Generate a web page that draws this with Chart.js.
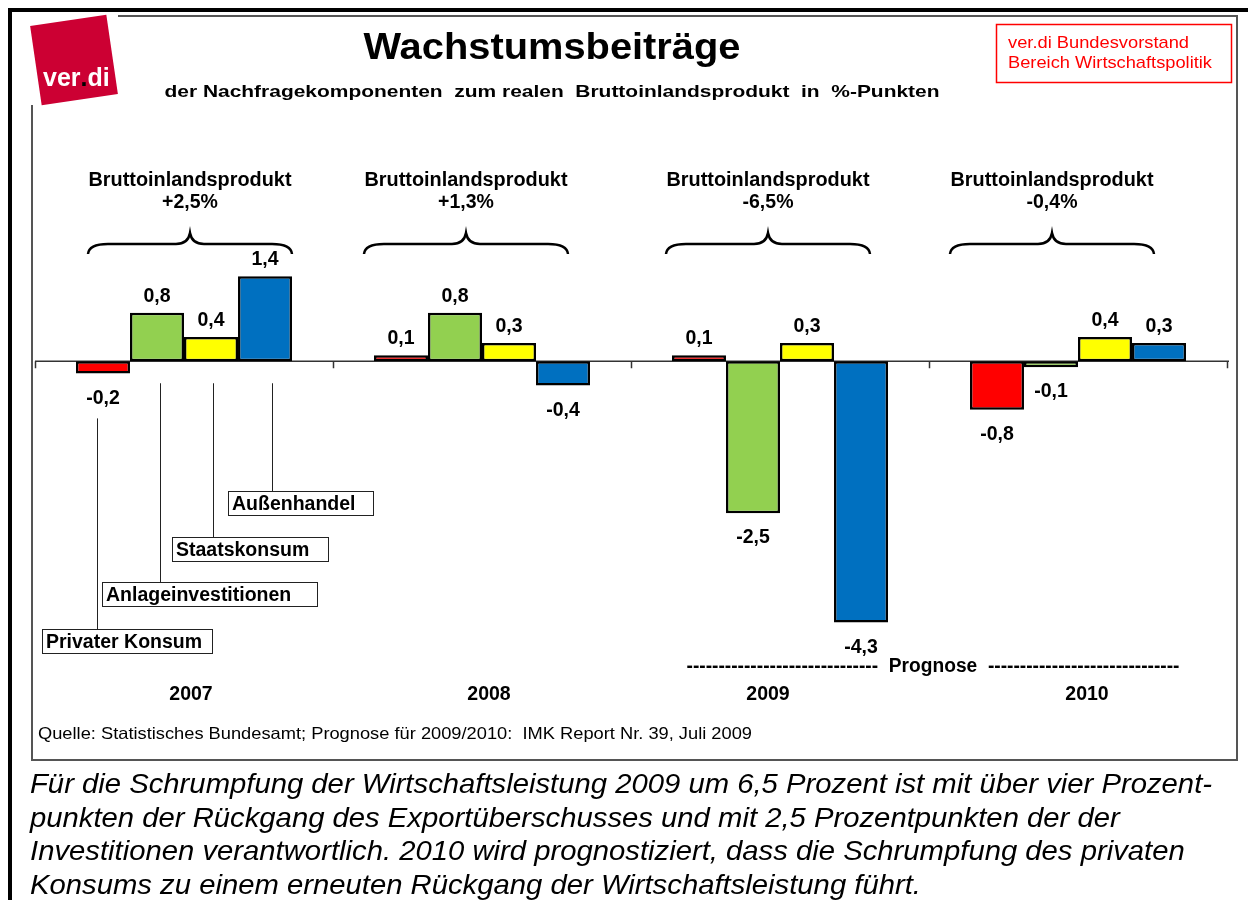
<!DOCTYPE html>
<html lang="de">
<head>
<meta charset="utf-8">
<title>Wachstumsbeiträge</title>
<script src="https://cdn.jsdelivr.net/npm/chart.js@4/dist/chart.umd.min.js"></script>
<style>
  html, body { margin: 0; padding: 0; background: #fff; }
  #chart { display: block; }
</style>
</head>
<body>
<canvas id="chart" width="1248" height="900"></canvas>
<script>
(() => {
  'use strict';

  /* ===== Data ===== */
  const categories = ['2007', '2008', '2009', '2010'];
  const seriesNames = ['Privater Konsum', 'Anlageinvestitionen', 'Staatskonsum', 'Außenhandel'];
  const privaterKonsum = [-0.2, 0.1, 0.1, -0.8];
  const anlageinvestitionen = [0.8, 0.8, -2.5, -0.1];
  const staatskonsum = [0.4, 0.3, 0.3, 0.4];
  const aussenhandel = [1.4, -0.4, -4.3, 0.3];
  const bipGrowth = [2.5, 1.3, -6.5, -0.4];

  const COLORS = ['#FF0000', '#92D050', '#FFFF00', '#0070C0'];
  const FONT = 'Arial, "Liberation Sans", sans-serif';
  const LABEL_FONT = 'bold 19.5px ' + FONT;

  // small nudges for the annotation text relative to the category centre
  const BIP_NUDGE = [6, -16, -12, -26];
  const YEAR_NUDGE = [7, 7, -12, 9];

  // name boxes under the 2007 bars (dx = leader line offset from bar centre)
  const CALLOUTS = [
    { x: 42, y: 629, w: 170, dx: -6 },
    { x: 102, y: 582, w: 215, dx: 3 },
    { x: 172, y: 537, w: 156, dx: 2 },
    { x: 228, y: 491, w: 145, dx: 7 }
  ];

  const CAPTION = [
    'Für die Schrumpfung der Wirtschaftsleistung 2009 um 6,5 Prozent ist mit über vier Prozent-',
    'punkten der Rückgang des Exportüberschusses und mit 2,5 Prozentpunkten der der',
    'Investitionen verantwortlich. 2010 wird prognostiziert, dass die Schrumpfung des privaten',
    'Konsums zu einem erneuten Rückgang der Wirtschaftsleistung führt.'
  ];

  /* ===== Helpers ===== */
  function fmt(v) {
    return v.toFixed(1).replace('.', ',');
  }
  function fmtPct(v) {
    return (v > 0 ? '+' : '') + fmt(v) + '%';
  }

  // draw text squeezed/stretched horizontally to a target width
  function fitText(ctx, text, x, y, width, align) {
    const w = ctx.measureText(text).width;
    const s = width / w;
    ctx.save();
    let left = x;
    if (align === 'center') left = x - width / 2;
    ctx.translate(left, y);
    ctx.scale(s, 1);
    ctx.textAlign = 'left';
    ctx.fillText(text, 0, 0);
    ctx.restore();
  }

  function line(ctx, x1, y1, x2, y2) {
    ctx.beginPath();
    ctx.moveTo(x1, y1);
    ctx.lineTo(x2, y2);
    ctx.stroke();
  }

  function brace(ctx, cx, half, yTop, yMid, yEnd) {
    const L = cx - half, R = cx + half;
    ctx.beginPath();
    ctx.moveTo(L, yEnd);
    ctx.quadraticCurveTo(L + 1, yMid, L + 20, yMid);
    ctx.lineTo(cx - 14, yMid);
    ctx.quadraticCurveTo(cx - 2, yMid, cx, yTop);
    ctx.quadraticCurveTo(cx + 2, yMid, cx + 14, yMid);
    ctx.lineTo(R - 20, yMid);
    ctx.quadraticCurveTo(R - 1, yMid, R, yEnd);
    ctx.stroke();
  }

  /* ===== Decorations ===== */
  const framePlugin = {
    id: 'frame',
    beforeDraw(chart) {
      const ctx = chart.ctx;
      ctx.save();
      ctx.fillStyle = '#fff';
      ctx.fillRect(0, 0, chart.width, chart.height);

      // thick outer border
      ctx.fillStyle = '#000';
      ctx.fillRect(8, 8, 1240, 4);
      ctx.fillRect(8, 8, 4, 892);

      // inner chart frame
      ctx.strokeStyle = '#555';
      ctx.lineWidth = 2;
      ctx.beginPath();
      ctx.moveTo(118, 16);
      ctx.lineTo(1237, 16);
      ctx.lineTo(1237, 760);
      ctx.lineTo(32, 760);
      ctx.lineTo(32, 105);
      ctx.stroke();

      // logo
      ctx.save();
      ctx.translate(74, 60);
      ctx.rotate(-8.3 * Math.PI / 180);
      ctx.fillStyle = '#CC0033';
      ctx.fillRect(-38.5, -40, 77, 80);
      ctx.restore();
      ctx.font = 'bold 25px ' + FONT;
      ctx.textBaseline = 'alphabetic';
      ctx.textAlign = 'left';
      let lx = 43;
      ctx.fillStyle = '#fff';
      ctx.fillText('ver', lx, 86);
      lx += ctx.measureText('ver').width;
      ctx.fillStyle = '#000';
      ctx.fillText('.', lx, 86);
      lx += ctx.measureText('.').width;
      ctx.fillStyle = '#fff';
      ctx.fillText('di', lx, 86);

      // title + subtitle
      ctx.fillStyle = '#000';
      ctx.font = 'bold 37px ' + FONT;
      fitText(ctx, 'Wachstumsbeiträge', 552, 59, 377, 'center');
      ctx.font = 'bold 17px ' + FONT;
      fitText(ctx, 'der Nachfragekomponenten  zum realen  Bruttoinlandsprodukt  in  %-Punkten', 552, 97, 775, 'center');

      // red box top right
      ctx.strokeStyle = '#FF0000';
      ctx.lineWidth = 1.5;
      ctx.strokeRect(996.5, 24.5, 235, 58);
      ctx.fillStyle = '#FF0000';
      ctx.font = '17px ' + FONT;
      fitText(ctx, 'ver.di Bundesvorstand', 1008, 48, 181, 'left');
      fitText(ctx, 'Bereich Wirtschaftspolitik', 1008, 68, 204, 'left');

      // source line
      ctx.fillStyle = '#000';
      ctx.font = '16.5px ' + FONT;
      fitText(ctx, 'Quelle: Statistisches Bundesamt; Prognose für 2009/2010:  IMK Report Nr. 39, Juli 2009', 38, 739, 714, 'left');

      // caption below the chart
      ctx.font = 'italic 27.5px ' + FONT;
      const capScale = 1182 / ctx.measureText(CAPTION[0]).width;
      CAPTION.forEach((t, i) => {
        const w = ctx.measureText(t).width * capScale;
        fitText(ctx, t, 30, 793 + i * 33.5, w, 'left');
      });
      ctx.restore();
    },

    beforeDatasetsDraw(chart) {
      const ctx = chart.ctx;
      const x = chart.scales.x;
      const y = chart.scales.y;
      const zeroY = y.getPixelForValue(0);
      ctx.save();
      ctx.strokeStyle = '#333';
      ctx.lineWidth = 1.5;
      line(ctx, chart.chartArea.left, zeroY, chart.chartArea.right + 2, zeroY);
      for (let i = 0; i <= categories.length; i++) {
        const tx = Math.round(x.getPixelForValue(i - 0.5)) + 0.5;
        line(ctx, tx, zeroY, tx, zeroY + 7);
      }
      ctx.restore();
    },

    afterDatasetsDraw(chart) {
      const ctx = chart.ctx;
      const x = chart.scales.x;
      const y = chart.scales.y;
      const zeroY = y.getPixelForValue(0);
      ctx.save();
      ctx.fillStyle = '#000';
      ctx.textAlign = 'center';

      // value labels
      ctx.font = LABEL_FONT;
      chart.data.datasets.forEach((ds, di) => {
        chart.getDatasetMeta(di).data.forEach((bar, i) => {
          const v = ds.data[i];
          if (v >= 0) {
            ctx.textBaseline = 'alphabetic';
            ctx.fillText(fmt(v), bar.x, bar.y - 11);
          } else {
            ctx.textBaseline = 'top';
            ctx.fillText(fmt(v), bar.x, bar.y + 15);
          }
        });
      });

      // BIP totals with braces
      ctx.textBaseline = 'alphabetic';
      ctx.strokeStyle = '#000';
      ctx.lineWidth = 2.5;
      categories.forEach((c, i) => {
        const cx = x.getPixelForValue(i) + BIP_NUDGE[i];
        fitText(ctx, 'Bruttoinlandsprodukt', cx, 186, 203, 'center');
        ctx.fillText(fmtPct(bipGrowth[i]), cx, 208);
        brace(ctx, cx, 102, 233, 244, 254);
      });

      // year labels
      categories.forEach((c, i) => {
        ctx.fillText(c, x.getPixelForValue(i) + YEAR_NUDGE[i], 700);
      });

      // Prognose marker over 2009/2010
      fitText(ctx, '------------------------------  Prognose  ------------------------------', 933, 672, 493, 'center');

      // series name callouts under 2007
      ctx.textAlign = 'left';
      ctx.strokeStyle = '#222';
      ctx.lineWidth = 1;
      CALLOUTS.forEach((box, di) => {
        const bar = chart.getDatasetMeta(di).data[0];
        const v = chart.data.datasets[di].data[0];
        const lx = Math.round(bar.x + box.dx) + 0.5;
        const top = v < 0 ? bar.y + 45 : zeroY + 22;
        line(ctx, lx, top, lx, box.y);
        ctx.strokeRect(box.x + 0.5, box.y + 0.5, box.w, 24);
        ctx.fillText(seriesNames[di], box.x + 4, box.y + 19);
      });
      ctx.restore();
    }
  };

  /* ===== Chart ===== */
  const seriesValues = [privaterKonsum, anlageinvestitionen, staatskonsum, aussenhandel];

  new Chart(document.getElementById('chart'), {
    type: 'bar',
    data: {
      labels: categories,
      datasets: seriesValues.map((vals, i) => ({
        label: seriesNames[i],
        data: vals,
        backgroundColor: COLORS[i],
        borderColor: '#000',
        borderWidth: 2.5,
        borderSkipped: false,
        categoryPercentage: 0.725,
        barPercentage: 1
      }))
    },
    options: {
      responsive: false,
      devicePixelRatio: 1,
      animation: false,
      layout: { padding: { left: 35, right: 21, top: 179, bottom: 235 } },
      scales: {
        x: { display: false },
        y: { display: false, min: -5, max: 3 }
      },
      plugins: {
        legend: { display: false },
        tooltip: { enabled: false },
        title: { display: false }
      }
    },
    plugins: [framePlugin]
  });
})();
</script>
</body>
</html>
